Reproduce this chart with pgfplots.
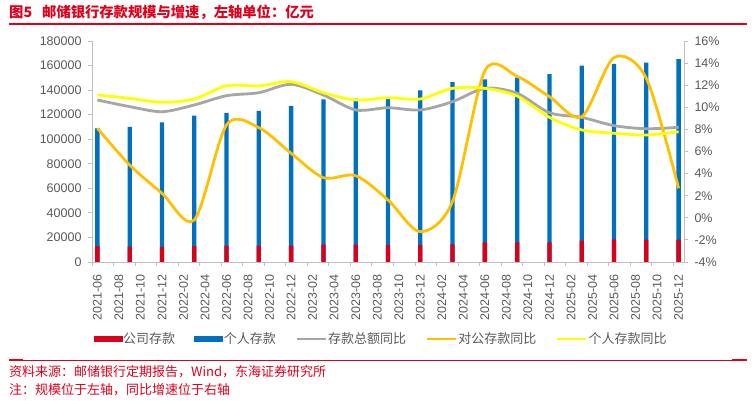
\documentclass[border=0pt]{standalone}
\usepackage{fontspec}
\setmainfont{Liberation Sans}
\newfontfamily\cjk{Noto Sans CJK SC}
\usepackage{pgfplots}
\pgfplotsset{compat=1.18}
\definecolor{ctitle}{HTML}{E0001B}
\definecolor{cred}{HTML}{D9001B}
\definecolor{cblue}{HTML}{0070C0}
\definecolor{cgray}{HTML}{A6A6A6}
\definecolor{corange}{HTML}{FFC000}
\definecolor{cyellow}{HTML}{FFFF00}
\definecolor{ctext}{HTML}{595959}
\definecolor{caxis}{HTML}{BFBFBF}
\begin{document}
\begin{tikzpicture}
\useasboundingbox (0pt,0pt) rectangle (755pt,401pt);
% title
\node[anchor=west, inner sep=0pt, text=ctitle, font=\cjk\bfseries\fontsize{14.3}{16}\selectfont] at (9pt,389pt) {图5\hspace{10pt}邮储银行存款规模与增速，左轴单位：亿元};
\fill[ctitle] (9pt,376pt) rectangle (747pt,378pt);
% footer
\fill[ctitle] (9pt,40pt) rectangle (747pt,40.9pt);
\fill[ctitle] (9pt,40pt) rectangle (23pt,42pt);
\fill[ctitle] (732pt,40pt) rectangle (747pt,42pt);
\node[anchor=west, inner sep=0pt, text=ctitle, font=\cjk\fontsize{13}{15}\selectfont] at (9pt,29.3pt) {资料来源：邮储银行定期报告，Wind，东海证券研究所};
\node[anchor=west, inner sep=0pt, text=ctitle, font=\cjk\fontsize{13}{15}\selectfont] at (9pt,11pt) {注：规模位于左轴，同比增速位于右轴};

\pgfplotsset{
  common/.style={
    at={(92pt,139pt)}, anchor=south west,
    scale only axis, width=592pt, height=221pt,
    xmin=-0.5, xmax=54.5,
    axis line style={draw=caxis, line width=0.8pt, -},
    tick style={draw=caxis, line width=0.8pt},
    major tick length=4pt, minor tick length=4pt,
    tick align=outside,
    /pgf/number format/assume math mode=true,
    tick label style={font=\fontsize{12.5}{14}\selectfont, text=ctext},
    yticklabel shift=3pt,
  }
}
\begin{axis}[common,
  ymin=0, ymax=180000,
  axis x line*=bottom, axis y line*=left,
  ytick={0,20000,40000,60000,80000,100000,120000,140000,160000,180000},
  scaled y ticks=false,
  yticklabel style={/pgf/number format/fixed, /pgf/number format/1000 sep={}},
  xtick={0,2,...,54},
  xticklabels={2021-06,2021-08,2021-10,2021-12,2022-02,2022-04,2022-06,2022-08,2022-10,2022-12,2023-02,2023-04,2023-06,2023-08,2023-10,2023-12,2024-02,2024-04,2024-06,2024-08,2024-10,2024-12,2025-02,2025-04,2025-06,2025-08,2025-10,2025-12},
  xticklabel style={rotate=90, anchor=east},
  xticklabel shift=5pt,
  major x tick style={draw=none},
  minor xtick={-0.5,1.5,...,54.5},
  bar width=4.3pt, bar shift=0pt,
]
\addplot[ybar, fill=cblue, draw=none] coordinates {
(0,108900) (3,110000) (6,113800) (9,119200) (12,121400) (15,123000) (18,127100) (21,132500) (24,133000) (27,133300) (30,139800) (33,146400) (36,148800) (39,150100) (42,153100) (45,159900) (48,161300) (51,162400) (54,165300)};
\addplot[ybar, fill=cred, draw=none] coordinates {
(0,13000) (3,12500) (6,12200) (9,13000) (12,13300) (15,13300) (18,13300) (21,14100) (24,14100) (27,13800) (30,13800) (33,14400) (36,16000) (39,16000) (42,16000) (45,17400) (48,18500) (51,18200) (54,18200)};
\end{axis}

\begin{axis}[common,
  ymin=-4, ymax=16,
  axis x line=none, axis y line*=right,
  ytick={-4,-2,0,2,4,6,8,10,12,14,16},
  yticklabel={\pgfmathprintnumber{\tick}\%},
  legend columns=5,
  legend style={at={(0.0022,-0.3484)}, anchor=west, draw=none, fill=none, inner sep=0pt,
    font=\cjk\fontsize{13}{15}\selectfont, text=ctext,
    /tikz/every even column/.append style={column sep=18pt},
    nodes={inner xsep=1.2pt, inner ysep=0pt}},
  legend cell align=left,
]
\addlegendimage{legend image code/.code={\fill[cred] (0pt,-2.7pt) rectangle (28pt,2.7pt);}}
\addlegendentry{公司存款}
\addlegendimage{legend image code/.code={\fill[cblue] (0pt,-2.7pt) rectangle (28pt,2.7pt);}}
\addlegendentry{个人存款}
\addplot[cgray, line width=2.8pt, smooth, tension=0.5, legend image code/.code={\draw[cgray, line width=2.8pt] (0pt,0pt) -- (29pt,0pt);}] coordinates {
(0,10.66) (3,10.06) (6,9.60) (9,10.21) (12,11.05) (15,11.32) (18,12.08) (21,11.11) (24,9.76) (27,9.96) (30,9.76) (33,10.51) (36,11.72) (39,11.27) (42,9.51) (45,9.09) (48,8.34) (51,8.06) (54,8.19)};
\addlegendentry{存款总额同比}
\addplot[corange, line width=2.8pt, smooth, tension=0.5, legend image code/.code={\draw[corange, line width=2.8pt] (0pt,0pt) -- (29pt,0pt);}] coordinates {
(0,8.1) (3,4.78) (6,2.22) (9,-0.2) (12,8.4) (15,8.16) (18,5.84) (21,3.63) (24,3.81) (27,1.61) (30,-1.26) (33,1.5) (36,13.3) (39,12.8) (42,10.96) (45,9.15) (48,14.5) (51,12.62) (54,2.67)};
\addlegendentry{对公存款同比}
\addplot[cyellow, line width=2.8pt, smooth, tension=0.5, legend image code/.code={\draw[cyellow, line width=2.8pt] (0pt,0pt) -- (29pt,0pt);}] coordinates {
(0,11.11) (3,10.81) (6,10.45) (9,10.75) (12,11.95) (15,11.93) (18,12.32) (21,11.32) (24,10.66) (27,10.87) (30,10.75) (33,11.72) (36,11.72) (39,11.02) (42,9.09) (45,7.95) (48,7.65) (51,7.49) (54,7.79)};
\addlegendentry{个人存款同比}
\end{axis}
\end{tikzpicture}
\end{document}
